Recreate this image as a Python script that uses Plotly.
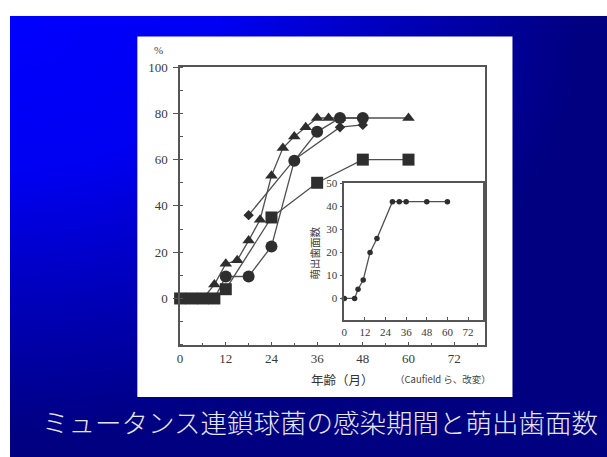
import base64
import plotly.graph_objects as go

W, H = 607, 457

# Main chart: share of children infected (%) by age in months
tri_age = [6, 9, 12, 15, 18, 21, 24, 27, 30, 33, 36, 39, 42, 60]
tri_pct = [0, 6, 15, 16.5, 25, 34, 53, 65, 70, 74, 78, 78, 78, 78]
circ_age = [9, 12, 18, 24, 30, 36, 42, 48]
circ_pct = [0, 9.5, 9.5, 22.5, 59.5, 72, 78, 78]
dia_age = [18, 30, 42, 48]
dia_pct = [36, 60, 74, 75]
sq_age = [0, 3, 6, 9, 12, 24, 36, 48, 60]
sq_pct = [0, 0, 0, 0, 4, 35, 50, 60, 60]

# Inset: number of erupted tooth surfaces by age in months
erupt_age = [0, 6, 8, 11, 15, 19, 28, 32, 36, 48, 60]
erupt_cnt = [0, 0, 4, 8, 20, 26, 42, 42, 42, 42, 42]

x_ticks = [0, 12, 24, 36, 48, 60, 72]
main_y_ticks = [0, 20, 40, 60, 80, 100]
inset_y_ticks = [0, 10, 20, 30, 40, 50]

MARK = "#2e2e2e"
LINE = "#505050"
AXIS = "#555555"
TICKFONT = dict(family="Liberation Serif", size=13, color="#3a3a3a")


def px_x(p):
    return p / W


def px_y(p):
    return 1 - p / H


fig = go.Figure()


def series(x, y, symbol, size, xa="x", ya="y", sizes=None):
    fig.add_trace(go.Scatter(
        x=x, y=y, xaxis=xa, yaxis=ya, mode="lines+markers",
        line=dict(color=LINE, width=1.3),
        marker=dict(symbol=symbol, size=sizes if sizes else size, color=MARK,
                    opacity=1, line=dict(width=0)),
        cliponaxis=False, showlegend=False, hoverinfo="skip",
    ))


series(dia_age, dia_pct, "diamond", 8, sizes=[8, 0, 8, 8])
series(tri_age, tri_pct, "triangle-up", 11, sizes=[0] + [11] * (len(tri_age) - 1))
series(circ_age, circ_pct, "circle", 12, sizes=[0] + [12] * (len(circ_age) - 1))
series(sq_age, sq_pct, "square", 12)
series(erupt_age, erupt_cnt, "circle", 5.5, xa="x2", ya="y2")

# Slide background: blue gradient fading to navy
svg = (
    '<svg xmlns="http://www.w3.org/2000/svg" width="600" height="448" '
    'viewBox="0 0 600 448" preserveAspectRatio="none">'
    '<defs><radialGradient id="g" cx="0" cy="0" r="1" fx="0" fy="0" '
    'gradientUnits="objectBoundingBox">'
    '<stop offset="0" stop-color="#0000ff"/>'
    '<stop offset="0.35" stop-color="#0000f2"/>'
    '<stop offset="0.7" stop-color="#0000b0"/>'
    '<stop offset="0.95" stop-color="#000082"/>'
    '<stop offset="1" stop-color="#000080"/>'
    '</radialGradient></defs>'
    '<rect width="600" height="448" fill="url(#g)"/></svg>'
)
src = "data:image/svg+xml;base64," + base64.b64encode(svg.encode()).decode()

fig.add_layout_image(dict(
    source=src, xref="paper", yref="paper", x=px_x(7), y=px_y(9),
    sizex=1 - px_x(7), sizey=px_y(9), xanchor="left", yanchor="top",
    sizing="stretch", layer="below",
))

# White figure panel
fig.add_shape(type="rect", xref="paper", yref="paper",
              x0=px_x(135), x1=px_x(512), y0=px_y(396), y1=px_y(30),
              fillcolor="white", line=dict(width=0), layer="below")

axis_common = dict(showline=True, linecolor=AXIS, linewidth=1.5, mirror=True,
                   showgrid=False, zeroline=False, tickcolor=AXIS)

fig.update_layout(
    width=W, height=H, margin=dict(l=0, r=0, t=0, b=0),
    paper_bgcolor="white", plot_bgcolor="rgba(0,0,0,0)",
    xaxis=dict(domain=[px_x(178), px_x(484)], range=[0, 80], anchor="y",
               tickvals=x_ticks, ticks="inside", ticklen=3,
               minor=dict(dtick=6, ticks="inside", ticklen=2, tickcolor=AXIS),
               tickfont=TICKFONT, ticklabelstandoff=1, **axis_common),
    yaxis=dict(domain=[px_y(343), px_y(61)], range=[-20, 100], anchor="x",
               tickvals=main_y_ticks, ticks="outside", ticklen=5,
               minor=dict(dtick=10, ticks="inside", ticklen=3, tickcolor=AXIS),
               tickfont=TICKFONT, ticklabelstandoff=3, **axis_common),
    xaxis2=dict(domain=[px_x(343), px_x(482)], range=[0, 80.5], anchor="y2",
                tickvals=x_ticks, ticks="inside", ticklen=3,
                tickfont=dict(family="Liberation Serif", size=11, color="#3a3a3a"),
                ticklabelstandoff=1, **axis_common),
    yaxis2=dict(domain=[px_y(318), px_y(179)], range=[-9.4, 50], anchor="x2",
                tickvals=inset_y_ticks, ticks="outside", ticklen=3,
                tickfont=dict(family="Liberation Serif", size=11, color="#3a3a3a"),
                **axis_common),
)

ann = [
    dict(text="%", x=px_x(156), y=px_y(44), font=dict(family="Liberation Serif", size=11, color="#444")),
    dict(text="年齢（月）", x=px_x(341), y=px_y(378),
         font=dict(family="Noto Sans CJK JP", size=12.5, color="#333")),
    dict(text="（Caufield ら、改変）", x=px_x(442), y=px_y(378),
         font=dict(family="Noto Sans CJK JP", size=9.5, color="#444")),
    dict(text="萌出歯面数", x=px_x(313), y=px_y(250), textangle=-90,
         font=dict(family="Noto Sans CJK JP", size=10.5, color="#444")),
    dict(text="ミュータンス連鎖球菌の感染期間と萌出歯面数", x=px_x(319), y=px_y(421),
         font=dict(family="Noto Sans CJK JP", size=26.5, weight=300, color="#e6e6f2")),
]
for a in ann:
    fig.add_annotation(xref="paper", yref="paper", showarrow=False,
                       xanchor="center", yanchor="middle", **a)

fig.write_html("out.html")
